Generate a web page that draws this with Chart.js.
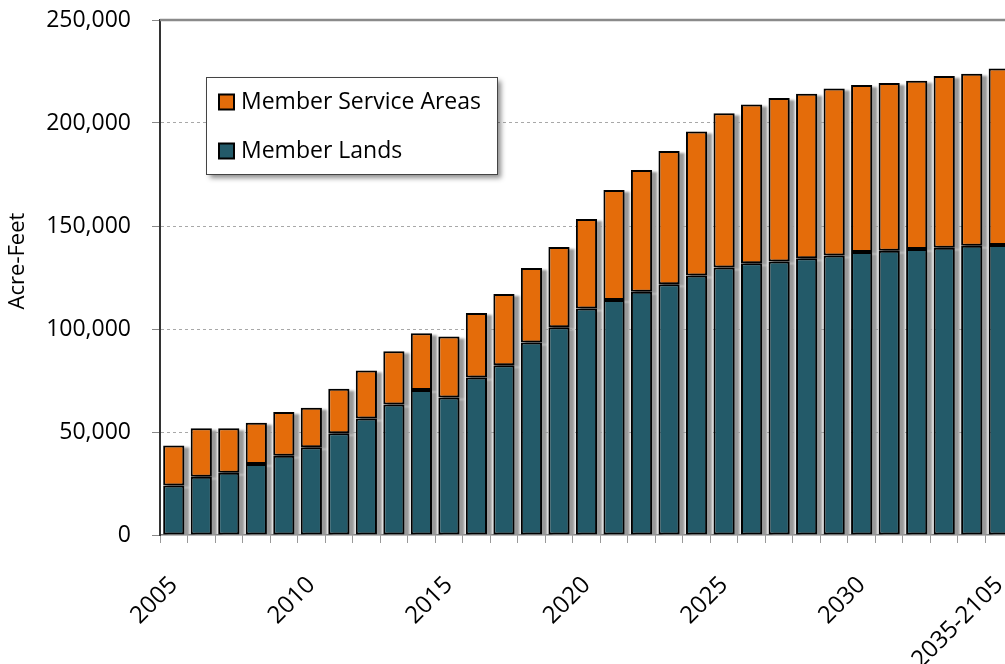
<!DOCTYPE html>
<html>
<head>
<meta charset="utf-8">
<script src="https://cdn.jsdelivr.net/npm/chart.js@4.4.1/dist/chart.umd.min.js"></script>
<style>
  html, body { margin: 0; padding: 0; background: #fff; overflow: hidden; }
  #wrap { position: relative; width: 1020px; height: 664px; }
</style>
</head>
<body>
<div id="wrap"><canvas id="acreFeetChart"></canvas></div>
<script>
// Categorias (anos)
const years = ['2005', '2006', '2007', '2008', '2009', '2010', '2011', '2012', '2013', '2014',
  '2015', '2016', '2017', '2018', '2019', '2020', '2021', '2022', '2023', '2024',
  '2025', '2026', '2027', '2028', '2029', '2030', '2031', '2032', '2033', '2034', '2035-2105'];

// Member Lands (parte de baixo)
const memberLands = [24000, 28300, 30200, 34500, 38500, 42600, 49400, 56500, 63300, 70400,
  66800, 76400, 82400, 93400, 100800, 109900, 114100, 118100, 121700, 126000,
  129800, 131900, 132800, 134300, 135700, 137400, 138000, 138800, 139500, 140400, 140800];

// Member Service Areas (parte de cima)
const memberServiceAreas = [19500, 23500, 21600, 20000, 21200, 19200, 21600, 23400, 25900, 27500,
  29500, 31400, 34600, 36200, 39000, 43500, 53400, 59100, 64700, 69900,
  74900, 77100, 79300, 79900, 81100, 81000, 81400, 81700, 83300, 83500, 85700];

const yTicks = [0, 50000, 100000, 150000, 200000, 250000];
const yTitle = 'Acre-Feet';

Chart.defaults.font.family = '"Open Sans", sans-serif';
Chart.defaults.font.size = 22;
Chart.defaults.color = '#000';

// sombra cinza atrás das barras
const barShadow = {
  id: 'barShadow',
  beforeDatasetsDraw(chart) {
    const { ctx, chartArea } = chart;
    ctx.save();
    ctx.beginPath();
    ctx.rect(chartArea.left, chartArea.top, chartArea.right - chartArea.left, chartArea.bottom - chartArea.top);
    ctx.clip();
    ctx.fillStyle = '#999';
    ctx.filter = 'blur(1px)';
    chart.data.datasets.forEach((ds, i) => {
      const meta = chart.getDatasetMeta(i);
      meta.data.forEach(bar => {
        const { x, y, base, width } = bar.getProps(['x', 'y', 'base', 'width'], true);
        ctx.fillRect(x - width / 2 + 4, Math.min(y, base) + 2, width + 1, Math.abs(base - y));
      });
    });
    ctx.restore();

    // linha superior
    ctx.save();
    ctx.strokeStyle = '#8a8a8a';
    ctx.lineWidth = 2.5;
    ctx.beginPath();
    ctx.moveTo(chartArea.left, chartArea.top);
    ctx.lineTo(chartArea.right, chartArea.top);
    ctx.stroke();
    ctx.restore();
  }
};

// título do eixo y e legenda dentro do gráfico
const boxLegend = {
  id: 'boxLegend',
  afterDraw(chart) {
    const { ctx } = chart;

    ctx.save();
    ctx.translate(18, 261);
    ctx.rotate(-Math.PI / 2);
    ctx.font = '22px "Open Sans", sans-serif';
    ctx.textAlign = 'center';
    ctx.textBaseline = 'middle';
    ctx.fillStyle = '#000';
    ctx.fillText(yTitle, 0, 0);
    ctx.restore();

    const bx = 206, by = 77, bw = 291, bh = 97;
    ctx.save();
    ctx.shadowColor = 'rgba(0,0,0,0.45)';
    ctx.shadowBlur = 5;
    ctx.shadowOffsetX = 4;
    ctx.shadowOffsetY = 4;
    ctx.fillStyle = '#fff';
    ctx.fillRect(bx, by, bw, bh);
    ctx.restore();
    ctx.save();
    ctx.strokeStyle = '#444';
    ctx.lineWidth = 1;
    ctx.strokeRect(bx + 0.5, by + 0.5, bw, bh);
    ctx.font = '23px "Open Sans", sans-serif';
    ctx.textBaseline = 'middle';
    ctx.fillStyle = '#000';
    const items = chart.data.datasets.slice().reverse();
    items.forEach((ds, i) => {
      const cy = 102 + i * 49;
      ctx.fillStyle = ds.backgroundColor;
      ctx.fillRect(219, cy - 7.5, 15, 15);
      ctx.strokeStyle = '#000';
      ctx.lineWidth = 2;
      ctx.strokeRect(219, cy - 7.5, 15, 15);
      ctx.fillStyle = '#000';
      ctx.fillText(ds.label, 241, cy);
    });
    ctx.restore();
  }
};

const ctx = document.getElementById('acreFeetChart').getContext('2d');
const acreFeetChart = new Chart(ctx, {
  type: 'bar',
  data: {
    labels: years,
    datasets: [{
      label: 'Member Lands',
      data: memberLands,
      backgroundColor: '#235a69',
      borderColor: '#000',
      borderWidth: 2,
      borderSkipped: false,
      barPercentage: 0.77,
      categoryPercentage: 1
    }, {
      label: 'Member Service Areas',
      data: memberServiceAreas,
      backgroundColor: '#e46c0a',
      borderColor: '#000',
      borderWidth: 2,
      borderSkipped: false,
      barPercentage: 0.77,
      categoryPercentage: 1
    }]
  },
  options: {
    responsive: true,
    maintainAspectRatio: false,
    animation: false,
    layout: { padding: { top: 20, right: 7, left: 0, bottom: 0 } },
    plugins: {
      legend: { display: false },
      tooltip: { enabled: false }
    },
    scales: {
      x: {
        stacked: true,
        grid: { drawOnChartArea: false, drawTicks: true, tickLength: 8, color: '#999', tickBorderDash: [] },
        border: { display: true, color: '#777', width: 1.5 },
        ticks: {
          autoSkip: false,
          minRotation: 45,
          maxRotation: 45,
          padding: 28,
          font: { size: 24 },
          callback: function (val, index) {
            return (index % 5 === 0 || index === years.length - 1) ? this.getLabelForValue(val) : '';
          }
        },
        afterFit(scale) {
          scale.height = 129;
          scale.paddingLeft = 0;
          scale.paddingRight = 0;
        }
      },
      y: {
        stacked: true,
        min: 0,
        max: 250000,
        afterBuildTicks(scale) { scale.ticks = yTicks.map(v => ({ value: v })); },
        grid: {
          color: c => (c.tick && (c.tick.value === 0 || c.tick.value === 250000)) ? 'rgba(0,0,0,0)' : '#a8a8a8',
          lineWidth: 1,
          tickColor: '#888',
          tickLength: 8,
          tickBorderDash: []
        },
        border: { display: true, color: '#333', width: 2, dash: [3, 3] },
        ticks: {
          padding: 21,
          font: { size: 23 },
          callback: v => v.toLocaleString('en-US')
        },
        afterFit(scale) {
          scale.width = 160;
          scale.paddingTop = 0;
          scale.paddingBottom = 0;
        }
      }
    }
  },
  plugins: [barShadow, boxLegend]
});
</script>
</body>
</html>
